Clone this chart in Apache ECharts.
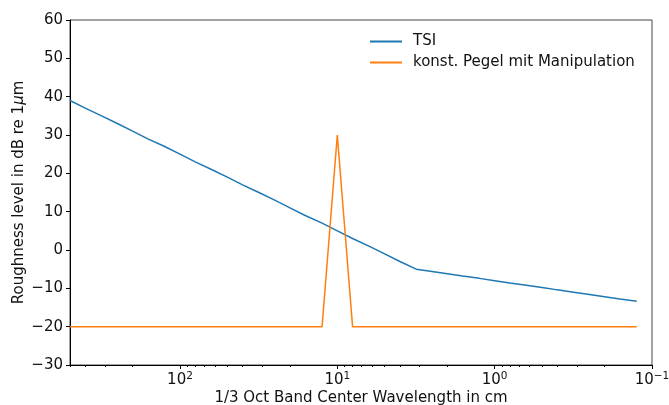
<!DOCTYPE html>
<html>
<head>
<meta charset="utf-8">
<script src="https://cdn.jsdelivr.net/npm/echarts@6/dist/echarts.min.js"></script>
<style>
  html, body { margin: 0; padding: 0; background: #fff; }
  #chart { width: 669px; height: 405px; }
</style>
</head>
<body>
<div id="chart"></div>
<script>
  'use strict';

  // 1/3 octave band centre wavelengths in cm
  var wavelengths = [500, 400, 315, 250, 200, 160, 125, 100, 80, 63, 50, 40, 31.5, 25, 20, 16,
    12.5, 10, 8, 6.3, 5, 4, 3.15, 2.5, 2, 1.6, 1.25, 1, 0.8, 0.63, 0.5, 0.4, 0.315, 0.25,
    0.2, 0.16, 0.125];

  // roughness levels in dB re 1um
  var tsi = [39, 37, 35, 33, 31, 29, 27, 25, 23, 21, 19, 17, 15, 13, 11, 9,
    7, 5, 3, 1, -1, -3, -5, -5.6, -6.2, -6.8, -7.4, -8, -8.6, -9.2, -9.8, -10.4, -11, -11.6,
    -12.2, -12.8, -13.4];
  var manipulation = [-20, -20, -20, -20, -20, -20, -20, -20, -20, -20, -20, -20, -20, -20, -20, -20,
    -20, 30, -20, -20, -20, -20, -20, -20, -20, -20, -20, -20, -20, -20, -20, -20, -20, -20,
    -20, -20, -20];

  var majorTicks = [100, 10, 1, 0.1];
  var minorTicks = [500, 400, 300, 200, 90, 80, 70, 60, 50, 40, 30, 20, 9, 8, 7, 6, 5, 4, 3, 2,
    0.9, 0.8, 0.7, 0.6, 0.5, 0.4, 0.3, 0.2];
  var yTicks = [-30, -20, -10, 0, 10, 20, 30, 40, 50, 60];

  var fontFamily = 'DejaVu Sans';
  var textColor = '#111';

  function pairs(xs, ys) {
    return xs.map(function(x, i) { return [x, ys[i]]; });
  }

  function powerLabel(v) {
    var e = Math.round(Math.log10(v));
    return '{b|10}{s|' + String(e).replace('-', '\u2212') + '}';
  }

  var chart = echarts.init(document.getElementById('chart'));
  chart.setOption({
    animation: false,
    textStyle: { fontFamily: fontFamily },
    grid: {
      left: 70, right: 17, top: 20, bottom: 40,
      outerBoundsMode: 'none',
      containLabel: false,
      show: true, borderColor: '#444', borderWidth: 1
    },
    legend: {
      orient: 'vertical',
      left: 365, top: 29,
      itemWidth: 32, itemHeight: 2, itemGap: 6,
      icon: 'rect',
      textStyle: { fontSize: 15, color: textColor, fontFamily: fontFamily, padding: [0, 0, 0, 6] },
      data: ['TSI', 'konst. Pegel mit Manipulation']
    },
    xAxis: [{
      type: 'log',
      logBase: 10,
      inverse: true,
      min: 0.1, max: 500,
      name: '1/3 Oct Band Center Wavelength in cm',
      nameLocation: 'middle',
      nameMoveOverlap: false,
      nameGap: 26,
      nameTextStyle: { fontSize: 15, color: textColor },
      axisLine: { show: true, onZero: false, lineStyle: { color: '#000', width: 1 } },
      axisTick: { show: true, length: 4, lineStyle: { color: '#000' }, customValues: majorTicks },
      axisLabel: {
        customValues: majorTicks,
        formatter: powerLabel,
        margin: 6,
        rich: {
          b: { fontSize: 15, color: textColor, fontFamily: fontFamily, lineHeight: 18 },
          s: { fontSize: 10.5, color: textColor, fontFamily: fontFamily, verticalAlign: 'top', lineHeight: 12 }
        }
      },
      splitLine: { show: false }
    }, {
      type: 'log',
      logBase: 10,
      inverse: true,
      min: 0.1, max: 500,
      position: 'bottom',
      axisLine: { show: false, onZero: false },
      axisTick: { show: true, length: 2, lineStyle: { color: '#000' }, customValues: minorTicks },
      axisLabel: { show: false },
      splitLine: { show: false }
    }],
    yAxis: {
      type: 'value',
      min: yTicks[0], max: yTicks[yTicks.length - 1], interval: 10,
      name: 'Roughness level in dB re 1{i|\u03bc}m',
      nameLocation: 'middle',
      nameMoveOverlap: false,
      nameGap: 43,
      nameTextStyle: {
        fontSize: 15, color: textColor,
        rich: { i: { fontSize: 15, fontStyle: 'italic', color: textColor, fontFamily: fontFamily } }
      },
      axisLine: { show: true, lineStyle: { color: '#000', width: 1 } },
      axisTick: { show: true, length: 4, lineStyle: { color: '#000' } },
      axisLabel: {
        fontSize: 15, color: textColor, margin: 7,
        formatter: function(v) { return String(v).replace('-', '\u2212'); }
      },
      splitLine: { show: false }
    },
    series: [{
      name: 'TSI',
      type: 'line',
      xAxisIndex: 0,
      data: pairs(wavelengths, tsi),
      showSymbol: false,
      symbol: 'none',
      lineStyle: { color: '#1f77b4', width: 1.5 },
      itemStyle: { color: '#1f77b4' }
    }, {
      name: 'konst. Pegel mit Manipulation',
      type: 'line',
      xAxisIndex: 0,
      data: pairs(wavelengths, manipulation),
      showSymbol: false,
      symbol: 'none',
      lineStyle: { color: '#ff7f0e', width: 1.5 },
      itemStyle: { color: '#ff7f0e' }
    }]
  });
</script>
</body>
</html>
